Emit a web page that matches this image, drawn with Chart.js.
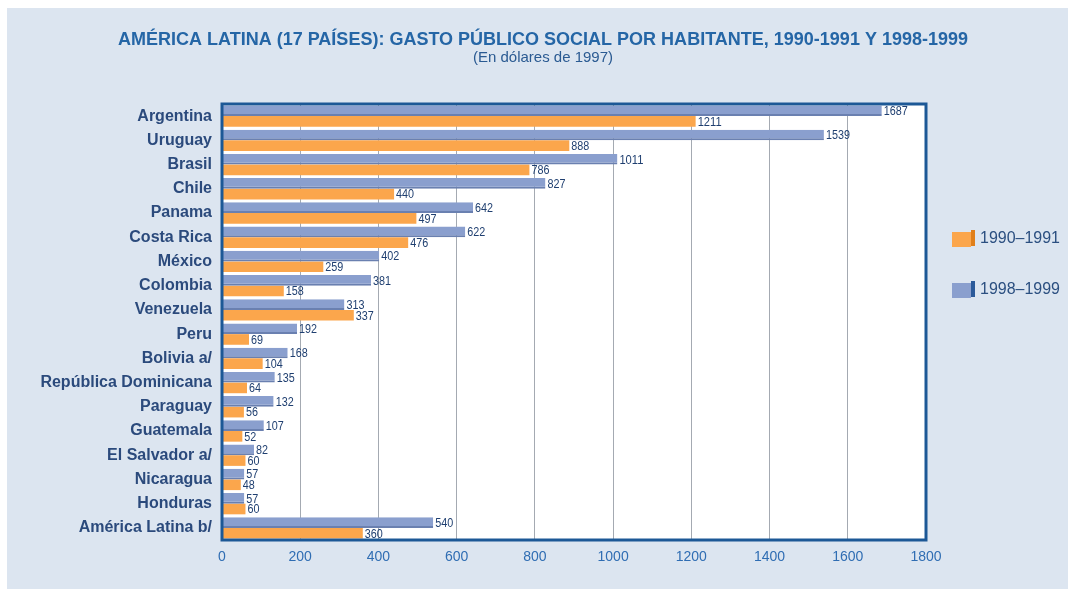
<!DOCTYPE html>
<html>
<head>
<meta charset="utf-8">
<script src="https://cdn.jsdelivr.net/npm/chart.js@4.4.1/dist/chart.umd.min.js"></script>
<style>
  html, body { margin: 0; padding: 0; background: #ffffff; }
  #panel { position: absolute; left: 7px; top: 8px; width: 1061px; height: 581px; background: #dce5f0; }
  #wrap { position: absolute; left: 0; top: 0; width: 1068px; height: 589px; }
</style>
</head>
<body>
<div id="panel"></div>
<div id="wrap"><canvas id="gastoChart" width="1068" height="589"></canvas></div>
<script>
// Datos del gráfico
var paises = ['Argentina', 'Uruguay', 'Brasil', 'Chile', 'Panama', 'Costa Rica', 'México', 'Colombia',
    'Venezuela', 'Peru', 'Bolivia a/', 'República Dominicana', 'Paraguay', 'Guatemala',
    'El Salvador a/', 'Nicaragua', 'Honduras', 'América Latina b/'];
var gasto9899 = [1687, 1539, 1011, 827, 642, 622, 402, 381, 313, 192, 168, 135, 132, 107, 82, 57, 57, 540];
var gasto9091 = [1211, 888, 786, 440, 497, 476, 259, 158, 337, 69, 104, 64, 56, 52, 60, 48, 60, 360];
var ticksX = [0, 200, 400, 600, 800, 1000, 1200, 1400, 1600, 1800];

var titulo = 'AMÉRICA LATINA (17 PAÍSES): GASTO PÚBLICO SOCIAL POR HABITANTE, 1990-1991 Y 1998-1999';
var subtitulo = '(En dólares de 1997)';

var AZUL = '#8a9fce';
var NARANJA = '#fba64c';

// Título, borde del área y leyenda
var decoracion = {
    id: 'decoracion',
    beforeDraw: function(chart) {
        var ctx = chart.ctx, a = chart.chartArea;
        ctx.save();
        ctx.fillStyle = '#ffffff';
        ctx.fillRect(a.left, a.top, a.right - a.left, a.bottom - a.top);
        ctx.restore();
    },
    afterDraw: function(chart) {
        var ctx = chart.ctx, a = chart.chartArea;
        ctx.save();
        ctx.textAlign = 'center';
        ctx.textBaseline = 'middle';
        ctx.fillStyle = '#2566a6';
        ctx.font = 'bold 19px "Liberation Sans", Arial, sans-serif';
        ctx.fillText(titulo, 543, 40, 850);
        ctx.fillStyle = '#2a5a92';
        ctx.font = '15px "Liberation Sans", Arial, sans-serif';
        ctx.fillText(subtitulo, 543, 58, 146);

        // borde del área
        ctx.strokeStyle = '#1c5896';
        ctx.lineWidth = 3;
        ctx.strokeRect(a.left, a.top, a.right - a.left, a.bottom - a.top);

        // leyenda
        var items = [
            { txt: '1990–1991', c: NARANJA, lado: '#e07f1a', y: 239 },
            { txt: '1998–1999', c: AZUL, lado: '#2b5a9a', y: 290 }
        ];
        items.forEach(function(it) {
            ctx.fillStyle = it.c;
            ctx.fillRect(952, it.y - 7, 19, 15);
            ctx.fillStyle = it.lado;
            ctx.fillRect(971, it.y - 9, 4, 16);
            ctx.fillStyle = '#2b4f80';
            ctx.font = '16px "Liberation Sans", Arial, sans-serif';
            ctx.textAlign = 'left';
            ctx.fillText(it.txt, 980, it.y, 80);
        });
        ctx.restore();
    }
};

// Valores al final de cada barra
var etiquetas = {
    id: 'etiquetas',
    afterDatasetsDraw: function(chart) {
        var ctx = chart.ctx;
        ctx.save();
        ctx.fillStyle = '#1f3f70';
        ctx.font = '12px "Liberation Sans", Arial, sans-serif';
        ctx.textAlign = 'left';
        ctx.textBaseline = 'middle';
        chart.data.datasets.forEach(function(ds, i) {
            var meta = chart.getDatasetMeta(i);
            meta.data.forEach(function(bar, j) {
                var s = String(ds.data[j]);
                ctx.fillText(s, bar.x + 2, bar.y + 1, s.length * 6);
            });
        });
        ctx.restore();
    }
};

var ctx = document.getElementById('gastoChart').getContext('2d');
var gastoChart = new Chart(ctx, {
    type: 'bar',
    data: {
        labels: paises,
        datasets: [{
            label: '1998–1999',
            data: gasto9899,
            backgroundColor: AZUL,
            borderColor: '#6a80b0',
            borderWidth: { top: 0, bottom: 2, left: 0, right: 0 },
            borderSkipped: false,
            categoryPercentage: 0.88,
            barPercentage: 1
        }, {
            label: '1990–1991',
            data: gasto9091,
            backgroundColor: NARANJA,
            borderWidth: 0,
            categoryPercentage: 0.88,
            barPercentage: 1
        }]
    },
    options: {
        indexAxis: 'y',
        responsive: false,
        animation: false,
        layout: { padding: { top: 104, right: 142, left: 0, bottom: 0 } },
        plugins: {
            legend: { display: false },
            tooltip: { enabled: false }
        },
        scales: {
            x: {
                min: 0,
                max: 1800,
                afterBuildTicks: function(axis) {
                    axis.ticks = ticksX.map(function(v) { return { value: v }; });
                },
                grid: { color: '#a4aab2', lineWidth: 1, drawTicks: false },
                border: { display: false },
                ticks: {
                    color: '#2f6db3',
                    font: { family: '"Liberation Sans", Arial, sans-serif', size: 14 },
                    padding: 9,
                    callback: function(value) { return String(value); }
                },
                afterFit: function(axis) { axis.height = 49; }
            },
            y: {
                grid: { display: false, drawTicks: false },
                border: { display: false },
                ticks: {
                    color: '#2b4a7c',
                    font: { family: '"Liberation Sans", Arial, sans-serif', size: 16, weight: 'bold' },
                    padding: 10,
                    autoSkip: false
                },
                afterFit: function(axis) { axis.width = 222; }
            }
        }
    },
    plugins: [decoracion, etiquetas]
});
</script>
</body>
</html>
